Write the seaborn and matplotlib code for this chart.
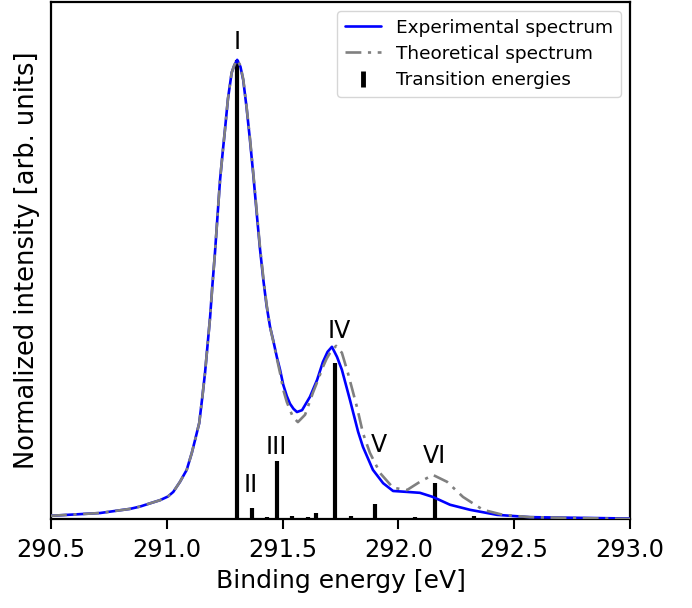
import numpy as np
import pandas as pd
import seaborn as sns
import matplotlib
matplotlib.use("Agg")
import matplotlib.pyplot as plt
from matplotlib.lines import Line2D

# Measured XPS spectrum (binding energy in eV, normalized intensity)
exp_energy = [290.500, 290.712, 290.841, 290.884, 290.927, 290.971, 291.005, 291.028,
              291.057, 291.086, 291.108, 291.122, 291.140, 291.154, 291.165, 291.176,
              291.187, 291.197, 291.208, 291.219, 291.230, 291.241, 291.251, 291.264,
              291.280, 291.292, 291.304, 291.318, 291.330, 291.344, 291.359, 291.374,
              291.388, 291.402, 291.417, 291.431, 291.446, 291.460, 291.475, 291.489,
              291.503, 291.518, 291.532, 291.547, 291.562, 291.584, 291.618, 291.649,
              291.674, 291.694, 291.713, 291.735, 291.756, 291.791, 291.826, 291.847,
              291.890, 291.934, 291.977, 292.037, 292.093, 292.149, 292.223, 292.309,
              292.426, 292.568, 293.000]
exp_intensity = [0.007, 0.013, 0.022, 0.027, 0.034, 0.041, 0.049, 0.059,
                 0.081, 0.107, 0.144, 0.172, 0.209, 0.268, 0.318, 0.379,
                 0.440, 0.510, 0.580, 0.660, 0.739, 0.797, 0.847, 0.915,
                 0.972, 0.989, 1.000, 0.985, 0.956, 0.898, 0.826, 0.747,
                 0.667, 0.590, 0.520, 0.464, 0.418, 0.388, 0.353, 0.325,
                 0.292, 0.268, 0.251, 0.240, 0.233, 0.237, 0.266, 0.303,
                 0.342, 0.364, 0.375, 0.353, 0.325, 0.259, 0.190, 0.157,
                 0.107, 0.078, 0.061, 0.059, 0.057, 0.048, 0.031, 0.020,
                 0.009, 0.004, 0.001]

# Broadened theoretical spectrum
theo_energy = [290.500, 290.712, 290.841, 290.884, 290.927, 290.971, 291.005, 291.028,
               291.057, 291.086, 291.108, 291.122, 291.140, 291.154, 291.165, 291.176,
               291.187, 291.197, 291.208, 291.219, 291.230, 291.241, 291.251, 291.264,
               291.280, 291.292, 291.304, 291.318, 291.330, 291.344, 291.359, 291.374,
               291.388, 291.402, 291.417, 291.431, 291.446, 291.460, 291.475, 291.489,
               291.503, 291.518, 291.532, 291.545, 291.566, 291.597, 291.631, 291.653,
               291.674, 291.690, 291.705, 291.731, 291.756, 291.782, 291.821, 291.847,
               291.877, 291.921, 291.977, 292.037, 292.093, 292.149, 292.210, 292.279,
               292.365, 292.452, 292.568, 293.000]
theo_intensity = [0.007, 0.013, 0.022, 0.027, 0.034, 0.041, 0.049, 0.059,
                  0.081, 0.107, 0.144, 0.172, 0.209, 0.268, 0.318, 0.379,
                  0.440, 0.510, 0.580, 0.660, 0.739, 0.797, 0.847, 0.915,
                  0.972, 0.989, 1.000, 0.987, 0.958, 0.900, 0.830, 0.750,
                  0.672, 0.594, 0.525, 0.467, 0.418, 0.386, 0.350, 0.318,
                  0.281, 0.255, 0.237, 0.222, 0.211, 0.227, 0.275, 0.303,
                  0.331, 0.349, 0.362, 0.377, 0.362, 0.318, 0.244, 0.187,
                  0.144, 0.100, 0.068, 0.063, 0.081, 0.096, 0.081, 0.048,
                  0.020, 0.009, 0.004, 0.000]

# Computed transition energies and relative strengths
stick_energy = [291.304, 291.367, 291.433, 291.475, 291.539, 291.608, 291.646, 291.696,
                291.728, 291.794, 291.856, 291.901, 291.934, 291.972, 292.072, 292.123,
                292.156, 292.188, 292.223, 292.275, 292.326, 292.395, 292.503, 292.616]
stick_strength = [1.000, 0.024, 0.004, 0.127, 0.006, 0.004, 0.013, 0.002,
                  0.339, 0.007, 0.003, 0.033, 0.003, 0.003, 0.004, 0.002,
                  0.078, 0.003, 0.003, 0.002, 0.006, 0.002, 0.002, 0.003]

# Peak labels
peak_names = ["I", "II", "III", "IV", "V", "VI"]
peak_label_xy = [(291.303, 1.039), (291.364, 0.074), (291.471, 0.157),
                 (291.744, 0.410), (291.916, 0.161), (292.154, 0.137)]

xticks = [290.5, 291.0, 291.5, 292.0, 292.5, 293.0]

sns.set_style("ticks", {"text.color": "black", "xtick.color": "black",
                        "ytick.color": "black", "axes.labelcolor": "black",
                        "axes.edgecolor": "black"})
plt.rcParams["font.family"] = ["DejaVu Sans"]

fig = plt.figure(figsize=(6.92, 6.08), dpi=100)
ax = fig.add_axes([0.0737, 0.1464, 0.8367, 0.8503])

exp_df = pd.DataFrame({"energy": exp_energy, "intensity": exp_intensity})
theo_df = pd.DataFrame({"energy": theo_energy, "intensity": theo_intensity})

dashdot = (0, (6, 2.5, 1.2, 2.5))
sns.lineplot(data=exp_df, x="energy", y="intensity", ax=ax, color="#0000ff",
             linewidth=1.9, sort=False, zorder=3)
sns.lineplot(data=theo_df, x="energy", y="intensity", ax=ax, color="#808080",
             linewidth=1.9, linestyle=dashdot, sort=False, zorder=4)
ax.vlines(stick_energy, 0, stick_strength, colors="black", linewidth=3.0, zorder=2)

for name, (xv, yv) in zip(peak_names, peak_label_xy):
    ax.text(xv, yv, name, ha="center", va="center", fontsize=17, color="black")

handles = [
    Line2D([], [], color="#0000ff", linewidth=1.9),
    Line2D([], [], color="#808080", linewidth=1.9, linestyle=dashdot),
    Line2D([], [], color="black", marker="|", linestyle="none",
           markersize=11, markeredgewidth=3.5),
]
ax.legend(handles, ["Experimental spectrum", "Theoretical spectrum", "Transition energies"],
          loc="upper right", fontsize=13.3, handlelength=2.0, borderaxespad=0.5,
          labelspacing=0.45)

ax.set_xlim(290.5, 293.0)
ax.set_ylim(0, 1.126)
ax.set_xticks(xticks)
ax.set_xticklabels([f"{t:.1f}" for t in xticks])
ax.set_yticks([])
ax.tick_params(axis="x", labelsize=17.3, length=7, width=1.5, direction="out", pad=7)
ax.set_xlabel("Binding energy [eV]", fontsize=18, labelpad=5)
ax.set_ylabel("Normalized intensity [arb. units]", fontsize=18.5, labelpad=8)
for sp in ax.spines.values():
    sp.set_linewidth(1.6)
    sp.set_color("black")

fig.savefig("out.png", dpi=100)
